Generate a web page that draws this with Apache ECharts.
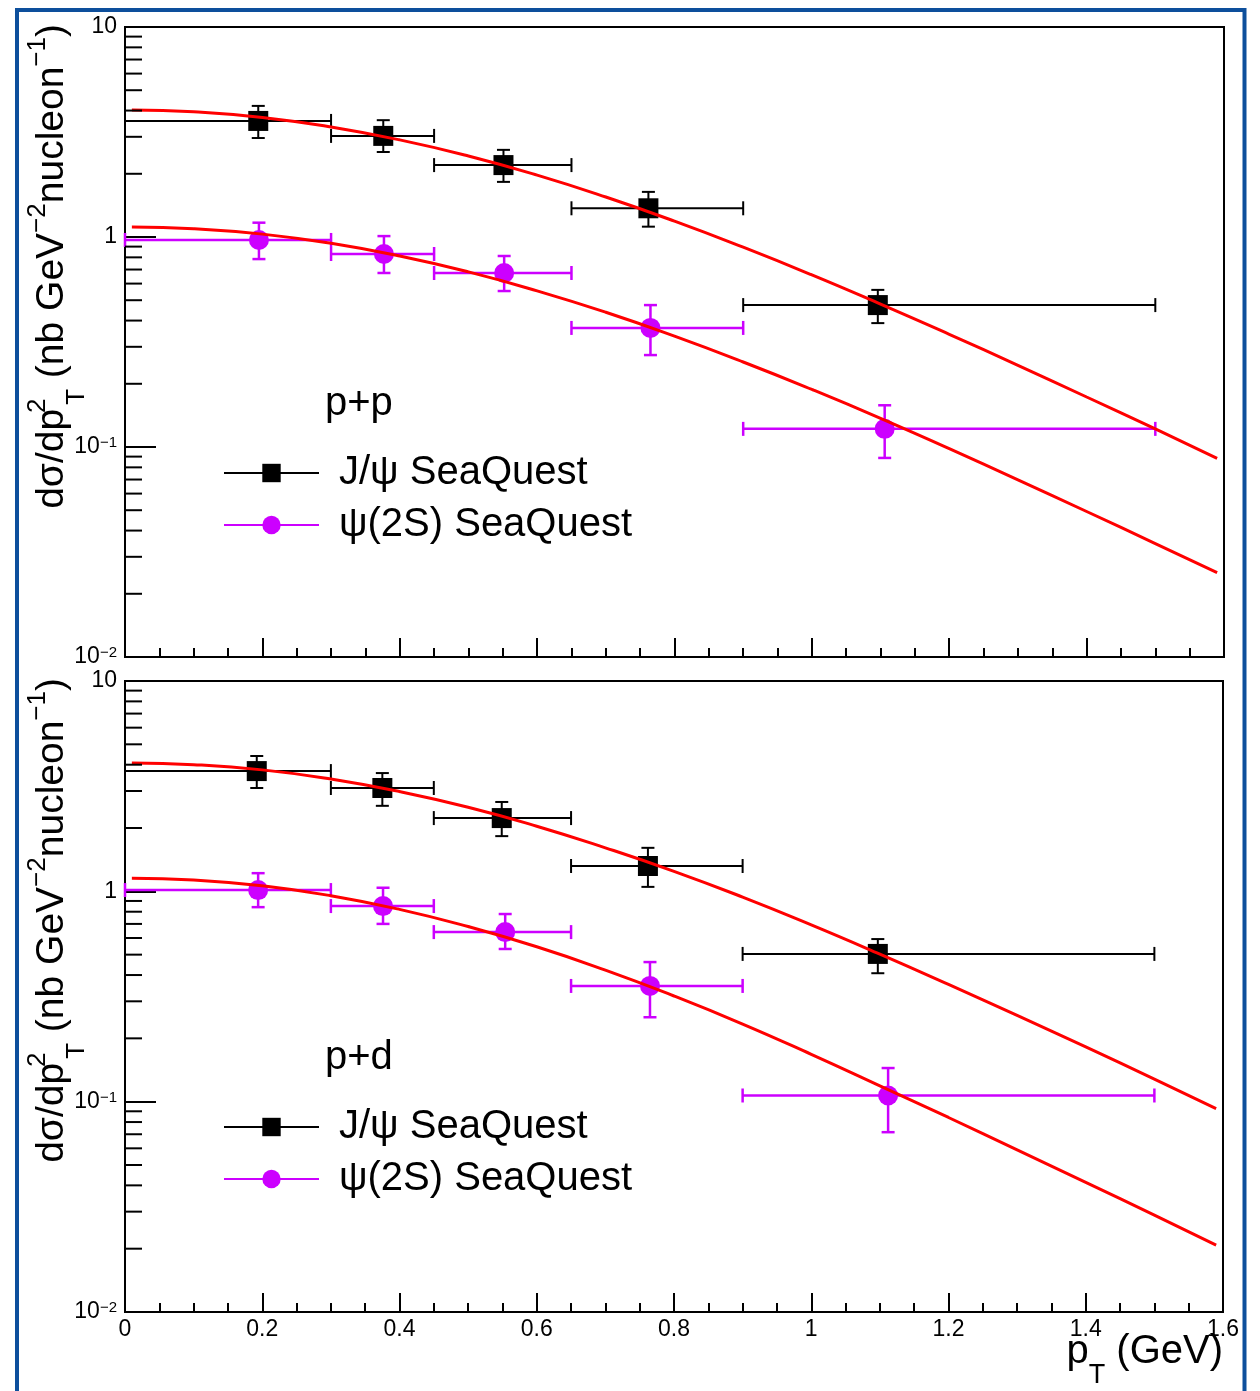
<!DOCTYPE html>
<html><head><meta charset="utf-8">
<script src="https://cdn.jsdelivr.net/npm/echarts@6/dist/echarts.min.js"></script>
<style>html,body{margin:0;padding:0;background:#fff}#chart{width:1260px;height:1391px}</style>
</head><body><div id="chart"></div>
<script>
const FONT = '"Liberation Sans", Arial, Helvetica, sans-serif';
const BLACK = '#000000';
const MAGENTA = '#cc00ff';
const RED = '#ff0000';

// pT bins (GeV)
const binLow  = [0, 0.3, 0.45, 0.65, 0.9];
const binHigh = [0.3, 0.45, 0.65, 0.9, 1.5];

// p+p, J/psi
const ppJpsiX   = [0.194, 0.376, 0.551, 0.762, 1.096];
const ppJpsiY   = [3.57, 3.03, 2.20, 1.37, 0.474];
const ppJpsiLo  = [2.96, 2.54, 1.83, 1.12, 0.389];
const ppJpsiHi  = [4.21, 3.60, 2.60, 1.64, 0.56];
// p+p, psi(2S)
const ppPsiX    = [0.195, 0.377, 0.552, 0.765, 1.106];
const ppPsiY    = [0.968, 0.83, 0.674, 0.369, 0.122];
const ppPsiLo   = [0.785, 0.674, 0.553, 0.274, 0.0887];
const ppPsiHi   = [1.17, 1.01, 0.812, 0.474, 0.158];
// p+d, J/psi
const pdJpsiX   = [0.192, 0.375, 0.549, 0.762, 1.097];
const pdJpsiY   = [3.73, 3.10, 2.23, 1.32, 0.504];
const pdJpsiLo  = [3.10, 2.55, 1.83, 1.05, 0.408];
const pdJpsiHi  = [4.40, 3.65, 2.66, 1.61, 0.593];
// p+d, psi(2S)
const pdPsiX    = [0.194, 0.376, 0.554, 0.765, 1.112];
const pdPsiY    = [1.014, 0.851, 0.64, 0.355, 0.107];
const pdPsiLo   = [0.841, 0.70, 0.532, 0.252, 0.0716];
const pdPsiHi   = [1.22, 1.04, 0.78, 0.461, 0.1445];

// fit curves
const curveX      = [0.01, 0.1, 0.2, 0.3, 0.4, 0.5, 0.6, 0.7, 0.8, 0.9, 1.0, 1.1, 1.2, 1.3, 1.4, 1.5, 1.59];
const ppJpsiFit   = [4.03, 3.95, 3.71, 3.34, 2.90, 2.43, 1.97, 1.55, 1.19, 0.894, 0.660, 0.479, 0.344, 0.245, 0.173, 0.122, 0.0883];
const ppPsiFit    = [1.116, 1.096, 1.032, 0.933, 0.812, 0.682, 0.554, 0.438, 0.337, 0.254, 0.188, 0.137, 0.0982, 0.0698, 0.0493, 0.0347, 0.0252];
const pdJpsiFit   = [4.07, 4.00, 3.78, 3.42, 2.98, 2.51, 2.04, 1.61, 1.245, 0.939, 0.693, 0.503, 0.361, 0.257, 0.182, 0.128, 0.0927];
const pdPsiFit    = [1.155, 1.133, 1.062, 0.953, 0.821, 0.680, 0.545, 0.422, 0.318, 0.234, 0.168, 0.119, 0.0841, 0.0590, 0.0413, 0.0289, 0.0208];

// axis ticks
const yMinorTicks = [0.02, 0.03, 0.04, 0.05, 0.06, 0.07, 0.08, 0.09,
                     0.2, 0.3, 0.4, 0.5, 0.6, 0.7, 0.8, 0.9,
                     2, 3, 4, 5, 6, 7, 8, 9];
const yTickValues = [0.01, 0.1, 1, 10];
const yTickLabels = ['{b|10}{s|\u22122}', '{b|10}{s|\u22121}', '{b|1}', '{b|10}'];

const legendNames = ['J/\u03c8 SeaQuest', '\u03c8(2S) SeaQuest'];
const panelLabels = ['p+p', 'p+d'];

function errRows(xs, ys, lo, hi) {
  return xs.map((x, i) => [x, ys[i], binLow[i], binHigh[i], lo[i], hi[i]]);
}
function pairs(xs, ys) { return xs.map((x, i) => [x, ys[i]]); }

function errorBarRenderer(color, lw, hCap, vCap) {
  return function (params, api) {
    const x = api.value(0), y = api.value(1);
    const pL = api.coord([api.value(2), y]);
    const pH = api.coord([api.value(3), y]);
    const pLo = api.coord([x, api.value(4)]);
    const pHi = api.coord([x, api.value(5)]);
    const st = { stroke: color, lineWidth: lw, fill: null };
    const ln = (x1, y1, x2, y2) => ({ type: 'line', shape: { x1, y1, x2, y2 }, style: st });
    return { type: 'group', children: [
      ln(pL[0], pL[1], pH[0], pH[1]),
      ln(pL[0], pL[1] - hCap, pL[0], pL[1] + hCap),
      ln(pH[0], pH[1] - hCap, pH[0], pH[1] + hCap),
      ln(pLo[0], pLo[1], pHi[0], pHi[1]),
      ln(pLo[0] - vCap, pLo[1], pLo[0] + vCap, pLo[1]),
      ln(pHi[0] - vCap, pHi[1], pHi[0] + vCap, pHi[1])
    ]};
  };
}

function minorTickRenderer(params, api) {
  const p = api.coord([0, api.value(1)]);
  return { type: 'line', shape: { x1: p[0], y1: p[1], x2: p[0] + 17, y2: p[1] },
           style: { stroke: BLACK, lineWidth: 2 } };
}

const grids = [
  { left: 125, top: 27, width: 1099, height: 630 },
  { left: 125, top: 681, width: 1098, height: 631 }
];

const xAxes = grids.map((g, i) => ({
  gridIndex: i, type: 'value', min: 0, max: 1.6, interval: 0.2,
  axisLine: { show: true, lineStyle: { color: BLACK, width: 2 } },
  axisTick: { show: true, inside: true, length: 19, lineStyle: { color: BLACK, width: 2 } },
  minorTick: { show: true, splitNumber: 4, length: 9, lineStyle: { color: BLACK, width: 2 } },
  splitLine: { show: false }, minorSplitLine: { show: false },
  axisLabel: { show: i === 1, color: BLACK, fontSize: 23, fontFamily: FONT, margin: 6 }
}));

const yAxes = grids.map((g, i) => ({
  gridIndex: i, type: 'log', logBase: 10, min: 0.01, max: 10,
  axisLine: { show: true, lineStyle: { color: BLACK, width: 2 } },
  axisTick: { show: true, inside: true, length: 31, lineStyle: { color: BLACK, width: 2 } },
  splitLine: { show: false },
  axisLabel: {
    show: true, margin: 8, color: BLACK, fontFamily: FONT,
    formatter: function (v) {
      let best = 0, bd = Infinity;
      yTickValues.forEach((t, k) => { const d = Math.abs(Math.log10(v) - Math.log10(t)); if (d < bd) { bd = d; best = k; } });
      return yTickLabels[best];
    },
    rich: {
      b: { fontSize: 23, fontFamily: FONT, color: BLACK, lineHeight: 23 },
      s: { fontSize: 15, fontFamily: FONT, color: BLACK, lineHeight: 15, verticalAlign: 'top' }
    }
  }
}));

const panels = [
  { jx: ppJpsiX, jy: ppJpsiY, jlo: ppJpsiLo, jhi: ppJpsiHi, px: ppPsiX, py: ppPsiY, plo: ppPsiLo, phi: ppPsiHi, fj: ppJpsiFit, fp: ppPsiFit },
  { jx: pdJpsiX, jy: pdJpsiY, jlo: pdJpsiLo, jhi: pdJpsiHi, px: pdPsiX, py: pdPsiY, plo: pdPsiLo, phi: pdPsiHi, fj: pdJpsiFit, fp: pdPsiFit }
];

const series = [];
panels.forEach((P, i) => {
  series.push({
    type: 'custom', name: 'jpsi-err-' + i, xAxisIndex: i, yAxisIndex: i, z: 3, silent: true,
    encode: { x: 0, y: 1 }, data: errRows(P.jx, P.jy, P.jlo, P.jhi),
    renderItem: errorBarRenderer(BLACK, 2, 7, 6.5)
  });
  series.push({
    type: 'custom', name: 'psi-err-' + i, xAxisIndex: i, yAxisIndex: i, z: 3, silent: true,
    encode: { x: 0, y: 1 }, data: errRows(P.px, P.py, P.plo, P.phi),
    renderItem: errorBarRenderer(MAGENTA, 2.5, 7, 6.5)
  });
  series.push({
    type: 'line', name: legendNames[0], xAxisIndex: i, yAxisIndex: i, z: 4, silent: true,
    data: pairs(P.jx, P.jy), symbol: 'rect', symbolSize: 20, showSymbol: true,
    itemStyle: { color: BLACK }, lineStyle: { color: BLACK, opacity: 0 }
  });
  series.push({
    type: 'line', name: legendNames[1], xAxisIndex: i, yAxisIndex: i, z: 4, silent: true,
    data: pairs(P.px, P.py), symbol: 'circle', symbolSize: 20, showSymbol: true,
    itemStyle: { color: MAGENTA }, lineStyle: { color: MAGENTA, opacity: 0 }
  });
  series.push({
    type: 'line', name: 'fit-jpsi-' + i, xAxisIndex: i, yAxisIndex: i, z: 5, silent: true,
    data: pairs(curveX, P.fj), smooth: true, showSymbol: false, symbol: 'none',
    lineStyle: { color: RED, width: 3 }, itemStyle: { color: RED }
  });
  series.push({
    type: 'line', name: 'fit-psi-' + i, xAxisIndex: i, yAxisIndex: i, z: 5, silent: true,
    data: pairs(curveX, P.fp), smooth: true, showSymbol: false, symbol: 'none',
    lineStyle: { color: RED, width: 3 }, itemStyle: { color: RED }
  });
  series.push({
    type: 'custom', name: 'yminor-' + i, xAxisIndex: i, yAxisIndex: i, z: 6, silent: true,
    encode: { x: 0, y: 1 }, data: yMinorTicks.map(v => [0, v]),
    renderItem: minorTickRenderer
  });
});

const legends = [0, 1].map(i => ({
  data: legendNames, orient: 'vertical', left: 223, top: 453 + 654 * i, padding: 0,
  itemWidth: 95, itemHeight: 23, itemGap: 12, selectedMode: false,
  lineStyle: { width: 2, opacity: 1 },
  textStyle: { fontSize: 40, fontFamily: FONT, color: BLACK, padding: [0, 0, 0, 15] }
}));

const titleRich = {
  n: { fontSize: 39, fontFamily: FONT, fill: BLACK, lineHeight: 75 },
  sup: { fontSize: 26, fontFamily: FONT, fill: BLACK, lineHeight: 26, verticalAlign: 'top', padding: [10, 0, 0, 0] },
  supz: { fontSize: 26, fontFamily: FONT, fill: BLACK, lineHeight: 26, verticalAlign: 'top', padding: [10, 0, 0, 2], width: 2, align: 'left' },
  sub: { fontSize: 26, fontFamily: FONT, fill: BLACK, lineHeight: 26, verticalAlign: 'bottom', padding: [0, 0, 0, 0] }
};
const xRich = {
  n: { fontSize: 40, fontFamily: FONT, fill: BLACK, lineHeight: 75 },
  sub: { fontSize: 27, fontFamily: FONT, fill: BLACK, lineHeight: 27, verticalAlign: 'bottom' }
};
const yTitle = '{n|d\u03c3/dp}{supz|2}{sub|T}{n| (nb GeV}{sup|\u22122}{n|nucleon}{sup|\u22121}{n|)}';
const xTitle = '{n|p}{sub|T}{n| (GeV)}';

const graphic = [
  { type: 'rect', shape: { x: 17, y: 10, width: 1227.5, height: 1400 },
    style: { stroke: '#0d4f9c', lineWidth: 4, fill: null }, z: 100 },
  { type: 'text', x: 1223, y: 1352, z: 50,
    style: { text: xTitle, rich: xRich, align: 'right', verticalAlign: 'middle', fontFamily: FONT, fontSize: 40, fill: BLACK } }
];
[0, 1].forEach(i => {
  graphic.push({ type: 'text', x: 52, y: 24 + 654 * i, rotation: Math.PI / 2, z: 50,
    style: { text: yTitle, rich: titleRich, align: 'right', verticalAlign: 'middle', fontFamily: FONT, fontSize: 39, fill: BLACK } });
  graphic.push({ type: 'text', x: 325, y: 404 + 654 * i, z: 50,
    style: { text: panelLabels[i], align: 'left', verticalAlign: 'middle', fontFamily: FONT, fontSize: 40, fill: BLACK } });
});

const option = {
  animation: false,
  backgroundColor: '#ffffff',
  grid: grids.map(g => Object.assign({ show: true, borderColor: BLACK, borderWidth: 2, backgroundColor: 'transparent' }, g)),
  xAxis: xAxes,
  yAxis: yAxes,
  legend: legends,
  series: series,
  graphic: graphic
};

const chart = echarts.init(document.getElementById('chart'), null, { renderer: 'canvas' });
chart.setOption(option);
</script>
</body></html>
